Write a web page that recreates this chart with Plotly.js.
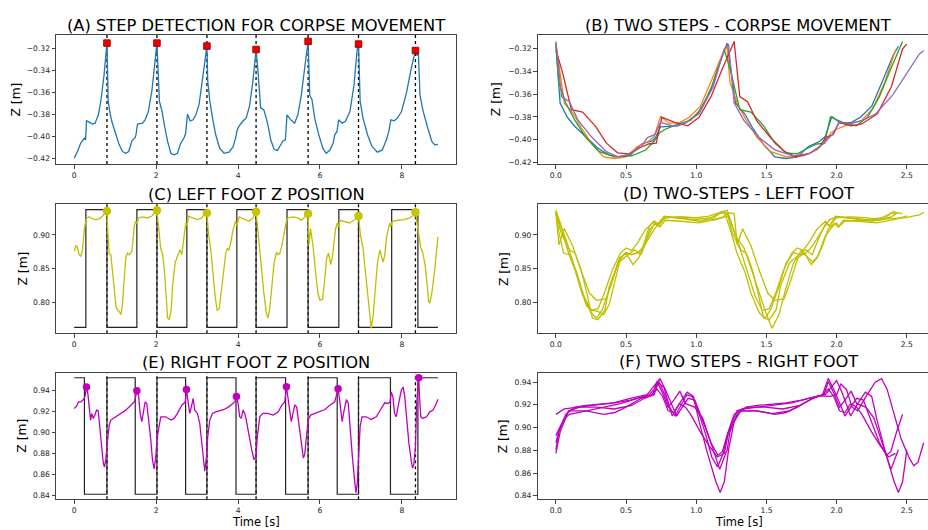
<!DOCTYPE html>
<html>
<head>
<meta charset="utf-8">
<script src="https://cdn.plot.ly/plotly-3.0.1.min.js"></script>
<style>html,body{margin:0;padding:0;background:#fff;}#chart{width:928px;height:530px;}</style>
</head>
<body>
<div id="chart"></div>
<script>
// ---------------- DATA ----------------
// step detection instants (dotted lines) [s]
const stepTimes = [0.80, 2.02, 3.24, 4.44, 5.71, 6.94, 8.33];
const stepCorpseZ = [-0.3155, -0.3155, -0.3182, -0.3213, -0.3140, -0.3164, -0.3222];
const stepLeftZ = [0.9358, 0.9369, 0.9328, 0.9348, 0.9318, 0.9284, 0.9339];

// corpse (pelvis) Z position
const corpseT = [0.00,0.08,0.16,0.22,0.25,0.28,0.30,0.37,0.45,0.51,0.59,0.65,0.73,0.80,
  0.83,0.88,0.93,1.02,1.10,1.18,1.26,1.33,1.41,1.49,1.51,1.545,1.67,1.73,1.81,1.90,1.96,2.02,
  2.08,2.145,2.20,2.28,2.36,2.44,2.52,2.60,2.68,2.72,2.766,2.83,2.905,2.97,3.05,3.13,3.20,3.24,
  3.26,3.31,3.375,3.455,3.55,3.66,3.78,3.88,3.94,3.98,4.02,4.10,4.20,4.28,4.36,4.44,
  4.49,4.55,4.63,4.72,4.80,4.88,4.96,5.04,5.10,5.155,5.195,5.285,5.38,5.46,5.545,5.626,5.71,
  5.75,5.806,5.87,5.97,6.07,6.15,6.24,6.32,6.36,6.416,6.456,6.54,6.62,6.73,6.83,6.91,6.94,
  6.98,7.05,7.16,7.27,7.40,7.52,7.62,7.68,7.73,7.81,7.89,7.99,8.11,8.23,8.30,8.33,
  8.37,8.40,8.44,8.51,8.62,8.73,8.80,8.88];
const corpseZ = [-0.4194,-0.4134,-0.4058,-0.4025,-0.4013,-0.4020,-0.3857,-0.3869,-0.3887,-0.3878,-0.3803,-0.3680,-0.3440,-0.3155,
  -0.3680,-0.3800,-0.3877,-0.3983,-0.4074,-0.4134,-0.4150,-0.4134,-0.4037,-0.4007,-0.3980,-0.3887,-0.3878,-0.3848,-0.3773,-0.3577,-0.3350,-0.3155,
  -0.3680,-0.3773,-0.3893,-0.4043,-0.4150,-0.4164,-0.4150,-0.4060,-0.4013,-0.3970,-0.3797,-0.3857,-0.3848,-0.3803,-0.3707,-0.3477,-0.3270,-0.3182,
  -0.3497,-0.3677,-0.3828,-0.3983,-0.4104,-0.4150,-0.4140,-0.4090,-0.4013,-0.3938,-0.3908,-0.3868,-0.3830,-0.3723,-0.3507,-0.3213,
  -0.3424,-0.3737,-0.3758,-0.3878,-0.4030,-0.4114,-0.4124,-0.4070,-0.4037,-0.4030,-0.3803,-0.3848,-0.3878,-0.3803,-0.3623,-0.3380,-0.3140,
  -0.3623,-0.3668,-0.3833,-0.3983,-0.4104,-0.4150,-0.4124,-0.4060,-0.3983,-0.3953,-0.3848,-0.3878,-0.3862,-0.3773,-0.3536,-0.3204,-0.3164,
  -0.3680,-0.3833,-0.3983,-0.4088,-0.4140,-0.4120,-0.4030,-0.3953,-0.3848,-0.3857,-0.3833,-0.3773,-0.3607,-0.3380,-0.3250,-0.3222,
  -0.3268,-0.3230,-0.3623,-0.3758,-0.3908,-0.4043,-0.4074,-0.4070];

// left foot Z position
const leftT = [0.00,0.04,0.08,0.12,0.16,0.20,0.245,0.27,0.30,0.37,0.45,0.53,0.61,0.69,0.77,0.80,
  0.822,0.855,0.895,0.936,0.977,1.02,1.06,1.10,1.14,1.18,1.22,1.26,1.30,1.34,1.41,1.465,1.50,1.53,1.57,1.67,1.79,1.89,1.976,2.02,
  2.075,2.116,2.157,2.20,2.24,2.28,2.32,2.37,2.40,2.464,2.52,2.58,2.626,2.683,2.724,2.75,2.79,2.887,3.01,3.115,3.196,3.24,
  3.277,3.334,3.39,3.44,3.49,3.54,3.586,3.643,3.70,3.74,3.78,3.82,3.878,3.94,3.97,4.025,4.147,4.27,4.366,4.415,4.44,
  4.49,4.53,4.59,4.63,4.69,4.73,4.77,4.83,4.88,4.935,4.976,5.02,5.07,5.14,5.19,5.22,5.34,5.465,5.546,5.63,5.67,5.71,
  5.732,5.77,5.83,5.887,5.95,6.00,6.066,6.115,6.164,6.21,6.26,6.30,6.342,6.38,6.424,6.45,6.489,6.60,6.725,6.85,6.94,
  6.99,7.05,7.09,7.156,7.21,7.25,7.30,7.35,7.40,7.46,7.50,7.54,7.58,7.627,7.68,7.71,7.725,7.765,7.90,8.05,8.19,8.30,8.33,
  8.41,8.46,8.51,8.57,8.62,8.65,8.68,8.73,8.80,8.855,8.88];
const leftZ = [0.8757,0.8840,0.8816,0.8706,0.8677,0.8770,0.9080,0.9178,0.9254,0.9270,0.9240,0.9230,0.9240,0.9280,0.9350,0.9358,
  0.9030,0.8730,0.8706,0.8480,0.8184,0.7936,0.7876,0.7860,0.7810,0.7966,0.8333,0.8657,0.8730,0.8706,0.8757,0.9130,0.9205,0.9170,0.9254,0.9270,0.9254,0.9280,0.9340,0.9369,
  0.9030,0.8780,0.8730,0.8480,0.8135,0.7761,0.7737,0.7886,0.8233,0.8582,0.8682,0.8780,0.8706,0.9005,0.9178,0.9130,0.9280,0.9254,0.9230,0.9254,0.9330,0.9328,
  0.9030,0.8780,0.8408,0.8085,0.7876,0.7900,0.8135,0.8480,0.8730,0.8806,0.8770,0.8880,0.9080,0.9205,0.9140,0.9270,0.9240,0.9205,0.9254,0.9340,0.9348,
  0.9030,0.8730,0.8428,0.8129,0.7836,0.7761,0.7886,0.8233,0.8580,0.8740,0.8706,0.8730,0.8840,0.9080,0.9230,0.9254,0.9270,0.9254,0.9219,0.9270,0.9330,0.9318,
  0.8855,0.9093,0.8836,0.8480,0.8130,0.8025,0.8045,0.8333,0.8657,0.8730,0.8557,0.8657,0.8855,0.9090,0.9178,0.9120,0.9220,0.9205,0.9180,0.9230,0.9284,
  0.8985,0.8810,0.8567,0.8164,0.7816,0.7607,0.7816,0.8214,0.8567,0.8776,0.8677,0.8597,0.8697,0.8975,0.9125,0.9178,0.9120,0.9205,0.9220,0.9230,0.9254,0.9300,0.9339,
  0.8985,0.8810,0.8730,0.8537,0.8233,0.8010,0.7985,0.8135,0.8483,0.8810,0.8975];

// right foot Z position
const rightT = [0.00,0.058,0.106,0.164,0.205,0.245,0.27,0.30,0.334,0.366,0.40,0.43,0.465,0.505,0.546,0.586,0.627,0.667,0.71,0.74,0.77,0.80,
  0.82,0.855,0.895,1.017,1.14,1.26,1.382,1.465,1.50,1.53,1.57,1.61,1.65,1.69,1.732,1.772,1.813,1.87,1.91,1.952,1.992,2.02,
  2.057,2.114,2.236,2.36,2.44,2.52,2.627,2.71,2.74,2.78,2.82,2.86,2.903,2.943,3.008,3.065,3.13,3.187,3.24,
  3.26,3.31,3.375,3.455,3.55,3.66,3.77,3.862,3.92,3.96,4.00,4.04,4.08,4.12,4.163,4.20,4.27,4.334,4.39,4.44,
  4.47,4.53,4.61,4.73,4.855,4.98,5.07,5.14,5.18,5.22,5.26,5.30,5.34,5.383,5.43,5.48,5.545,5.594,5.626,5.667,5.71,
  5.77,5.87,5.99,6.12,6.24,6.36,6.40,6.44,6.48,6.54,6.59,6.645,6.69,6.73,6.79,6.85,6.88,6.91,6.94,
  6.98,7.026,7.13,7.25,7.375,7.48,7.58,7.66,7.71,7.74,7.78,7.82,7.86,7.92,7.985,8.03,8.07,8.12,8.17,8.23,8.26,8.29,8.33,
  8.36,8.40,8.41,8.43,8.46,8.51,8.60,8.68,8.76,8.84,8.88];
const rightZ = [0.9225,0.9247,0.9288,0.9288,0.9304,0.9320,0.9350,0.9428,0.9366,0.9241,0.9116,0.9178,0.9132,0.9163,0.9210,0.9204,0.9054,0.8866,0.8710,0.8672,0.8740,0.8866,
  0.8960,0.9069,0.9116,0.9147,0.9179,0.9210,0.9257,0.9288,0.9335,0.9394,0.9351,0.9180,0.9101,0.9195,0.9288,0.9273,0.9147,0.8929,0.8741,0.8654,0.8773,0.8929,
  0.9023,0.9147,0.9147,0.9116,0.9132,0.9179,0.9257,0.9288,0.9404,0.9304,0.9179,0.9241,0.9320,0.9210,0.9179,0.9085,0.8835,0.8632,0.8804,
  0.8960,0.9116,0.9179,0.9194,0.9204,0.9216,0.9241,0.9273,0.9288,0.9338,0.9273,0.9147,0.9132,0.9210,0.9179,0.9116,0.8960,0.8835,0.8741,0.8773,
  0.8960,0.9147,0.9179,0.9179,0.9163,0.9194,0.9257,0.9288,0.9432,0.9335,0.9210,0.9101,0.9179,0.9257,0.9241,0.9085,0.8866,0.8757,0.8788,0.8960,0.9116,
  0.9163,0.9179,0.9194,0.9216,0.9257,0.9288,0.9350,0.9413,0.9304,0.9101,0.9210,0.9310,0.9273,0.9054,0.8773,0.8523,0.8429,0.8523,0.8804,
  0.9054,0.9147,0.9147,0.9122,0.9147,0.9216,0.9279,0.9273,0.9288,0.9382,0.9335,0.9179,0.9147,0.9273,0.9398,0.9429,0.9335,0.9116,0.8898,0.8726,0.8663,0.8695,0.8866,
  0.9273,0.9492,0.9516,0.9335,0.9147,0.9132,0.9147,0.9194,0.9210,0.9273,0.9313];
const rightMarkT = [0.30, 1.53, 2.74, 3.96, 5.18, 6.44, 8.41];
const rightMarkZ = [0.9428, 0.9394, 0.9404, 0.9338, 0.9432, 0.9413, 0.9516];

// foot contact square waves (transition times and low/high levels)
const leftRiseT  = [0.285, 1.53, 2.75, 3.97, 5.195, 6.46, 7.75];
const leftFallT  = [0.80, 2.02, 3.24, 4.44, 5.71, 6.94, 8.39];
const leftLevels = [0.7620, 0.9378];
const rightFallT = [0.25, 1.49, 2.72, 3.95, 5.16, 6.42, 7.72];
const rightRiseT = [0.80, 2.02, 3.24, 4.44, 5.71, 6.94, 8.39];
const rightLevels = [0.8415, 0.9516];
const waveEnd = 8.88;

// tick values
const timeTicks = [0, 2, 4, 6, 8];
const cycleTicks = [0.0, 0.5, 1.0, 1.5, 2.0, 2.5];
const corpseTicks = [-0.42, -0.40, -0.38, -0.36, -0.34, -0.32];
const leftTicks = [0.80, 0.85, 0.90];
const rightTicks = [0.84, 0.86, 0.88, 0.90, 0.92, 0.94];

const titles = ['(A) STEP DETECTION FOR CORPSE MOVEMENT', '(B) TWO STEPS - CORPSE MOVEMENT',
  '(C) LEFT FOOT Z POSITION', '(D) TWO-STEPS - LEFT FOOT',
  '(E) RIGHT FOOT Z POSITION', '(F) TWO STEPS - RIGHT FOOT'];
const cycleColors = ['#1f77b4', '#ff7f0e', '#2ca02c', '#d62728', '#9467bd'];

// ---------------- BUILD ----------------
const FONT = 'DejaVu Sans';
const W = 928, H = 530;

function segment(ts, zs, k) {
  const a = stepTimes[k], b = stepTimes[k + 2];
  const x = [], y = [];
  for (let i = 0; i < ts.length; i++) {
    if (ts[i] >= a - 1e-9 && ts[i] <= b + 1e-9) { x.push(+(ts[i] - a).toFixed(4)); y.push(zs[i]); }
  }
  return {x, y};
}
function wave(upT, downT, levels, startHigh) {
  const lo = levels[0], hi = levels[1];
  const x = [0], y = [startHigh ? hi : lo];
  for (let i = 0; i < upT.length; i++) {
    if (startHigh) {
      x.push(upT[i], upT[i], downT[i], downT[i]); y.push(hi, lo, lo, hi);
    } else {
      x.push(upT[i], upT[i], downT[i], downT[i]); y.push(lo, hi, hi, lo);
    }
  }
  x.push(waveEnd); y.push(startHigh ? hi : lo);
  return {x, y};
}

const traces = [];
// A
traces.push({x: corpseT, y: corpseZ, xaxis: 'x', yaxis: 'y', mode: 'lines', line: {color: '#1f77b4', width: 1.3}});
traces.push({x: stepTimes, y: stepCorpseZ, xaxis: 'x', yaxis: 'y', mode: 'markers',
  marker: {symbol: 'square', color: '#ee0000', size: 6.5, line: {color: '#b00000', width: 1}}});
// B
for (let k = 0; k < 5; k++) {
  const s = segment(corpseT, corpseZ, k);
  traces.push({x: s.x, y: s.y, xaxis: 'x2', yaxis: 'y2', mode: 'lines', line: {color: cycleColors[k], width: 1.3}});
}
// C
const lw = wave(leftRiseT, leftFallT, leftLevels, false);
traces.push({x: lw.x, y: lw.y, xaxis: 'x3', yaxis: 'y3', mode: 'lines', line: {color: '#222', width: 1.2}});
traces.push({x: leftT, y: leftZ, xaxis: 'x3', yaxis: 'y3', mode: 'lines', line: {color: '#bfbf00', width: 1.3}});
traces.push({x: stepTimes, y: stepLeftZ, xaxis: 'x3', yaxis: 'y3', mode: 'markers',
  marker: {symbol: 'circle', color: '#c4c400', size: 8.5}});
// D
for (let k = 0; k < 5; k++) {
  const s = segment(leftT, leftZ, k);
  traces.push({x: s.x, y: s.y, xaxis: 'x4', yaxis: 'y4', mode: 'lines', line: {color: '#bfbf00', width: 1.3}});
}
// E
const rw = wave(rightFallT, rightRiseT, rightLevels, true);
traces.push({x: rw.x, y: rw.y, xaxis: 'x5', yaxis: 'y5', mode: 'lines', line: {color: '#222', width: 1.2}});
traces.push({x: rightT, y: rightZ, xaxis: 'x5', yaxis: 'y5', mode: 'lines', line: {color: '#bf00bf', width: 1.3}});
traces.push({x: rightMarkT, y: rightMarkZ, xaxis: 'x5', yaxis: 'y5', mode: 'markers',
  marker: {symbol: 'circle', color: '#bf00bf', size: 7.5}});
// F
for (let k = 0; k < 5; k++) {
  const s = segment(rightT, rightZ, k);
  traces.push({x: s.x, y: s.y, xaxis: 'x6', yaxis: 'y6', mode: 'lines', line: {color: '#bf00bf', width: 1.3}});
}

// dotted step lines on A, C, E (under the markers)
const shapes = [];
['', '3', '5'].forEach(function (n) {
  stepTimes.forEach(function (t) {
    shapes.push({type: 'line', layer: 'below', xref: 'x' + n, yref: 'y' + n + ' domain', x0: t, x1: t, y0: 0, y1: 1,
      line: {color: '#000', width: 1.3, dash: 'dot'}});
  });
});

const px = v => v / W, py = v => 1 - v / H;
const leftDom = [px(56), px(456)], rightDom = [px(537.5), 1];
const row1 = [py(164), py(35)], row2 = [py(333.3), py(204.3)], row3 = [py(499.2), py(372.8)];

function ax(extra) {
  return Object.assign({
    showgrid: false, zeroline: false, showline: true, linecolor: '#444', linewidth: 1,
    ticks: 'outside', ticklen: 3.5, tickwidth: 1, tickcolor: '#444',
    tickfont: {family: FONT, size: 7.6, color: '#222'}, fixedrange: true
  }, extra);
}

const layout = {
  width: W, height: H, autosize: false,
  margin: {l: 0, r: 0, t: 0, b: 0, pad: 0},
  paper_bgcolor: '#fff', plot_bgcolor: '#fff', showlegend: false,
  font: {family: FONT, color: '#000'},
  xaxis:  ax({domain: leftDom,  anchor: 'y',  range: [-0.444, 9.32], tickvals: timeTicks, tickformat: 'd', mirror: true}),
  yaxis:  ax({domain: row1, anchor: 'x',  range: [-0.4247, -0.3082], tickvals: corpseTicks, tickformat: '.2f', mirror: true}),
  xaxis2: ax({domain: rightDom, anchor: 'y2', range: [-0.131, 2.651], tickvals: cycleTicks, tickformat: '.1f', mirror: true}),
  yaxis2: ax({domain: row1, anchor: 'x2', range: [-0.4212, -0.3084], tickvals: corpseTicks, tickformat: '.2f'}),
  xaxis3: ax({domain: leftDom,  anchor: 'y3', range: [-0.444, 9.32], tickvals: timeTicks, tickformat: 'd', mirror: true}),
  yaxis3: ax({domain: row2, anchor: 'x3', range: [0.7533, 0.9458], tickvals: leftTicks, tickformat: '.2f', mirror: true}),
  xaxis4: ax({domain: rightDom, anchor: 'y4', range: [-0.131, 2.651], tickvals: cycleTicks, tickformat: '.1f', mirror: true}),
  yaxis4: ax({domain: row2, anchor: 'x4', range: [0.7533, 0.9458], tickvals: leftTicks, tickformat: '.2f'}),
  xaxis5: ax({domain: leftDom,  anchor: 'y5', range: [-0.444, 9.32], tickvals: timeTicks, tickformat: 'd', mirror: true}),
  yaxis5: ax({domain: row3, anchor: 'x5', range: [0.8368, 0.9563], tickvals: rightTicks, tickformat: '.2f', mirror: true}),
  xaxis6: ax({domain: rightDom, anchor: 'y6', range: [-0.131, 2.651], tickvals: cycleTicks, tickformat: '.1f', mirror: true}),
  yaxis6: ax({domain: row3, anchor: 'x6', range: [0.837, 0.9481], tickvals: rightTicks, tickformat: '.2f'}),
  shapes: shapes,
  annotations: []
};

const titlePos = [[256, 25.3], [738, 25.3], [256, 194.5], [738, 194], [256, 362], [738.5, 361.5]];
titles.forEach(function (t, i) {
  layout.annotations.push({text: t, xref: 'paper', yref: 'paper', x: px(titlePos[i][0]), y: py(titlePos[i][1]),
    xanchor: 'center', yanchor: 'middle', showarrow: false, font: {family: FONT, size: 16.3, color: '#000'}});
});
const ylabPos = [[15, 99.5], [495.7, 99.5], [22.7, 268.8], [503.3, 268.8], [21.7, 436], [503.3, 436]];
ylabPos.forEach(function (p) {
  layout.annotations.push({text: 'Z [m]', xref: 'paper', yref: 'paper', x: px(p[0]), y: py(p[1]),
    xanchor: 'center', yanchor: 'middle', textangle: -90, showarrow: false, font: {family: FONT, size: 12.3, color: '#000'}});
});
[[256, 522.2], [738.5, 522.2]].forEach(function (p) {
  layout.annotations.push({text: 'Time [s]', xref: 'paper', yref: 'paper', x: px(p[0]), y: py(p[1]),
    xanchor: 'center', yanchor: 'middle', showarrow: false, font: {family: FONT, size: 11.5, color: '#000'}});
});

Plotly.newPlot('chart', traces, layout, {displayModeBar: false, staticPlot: true});
</script>
</body>
</html>
